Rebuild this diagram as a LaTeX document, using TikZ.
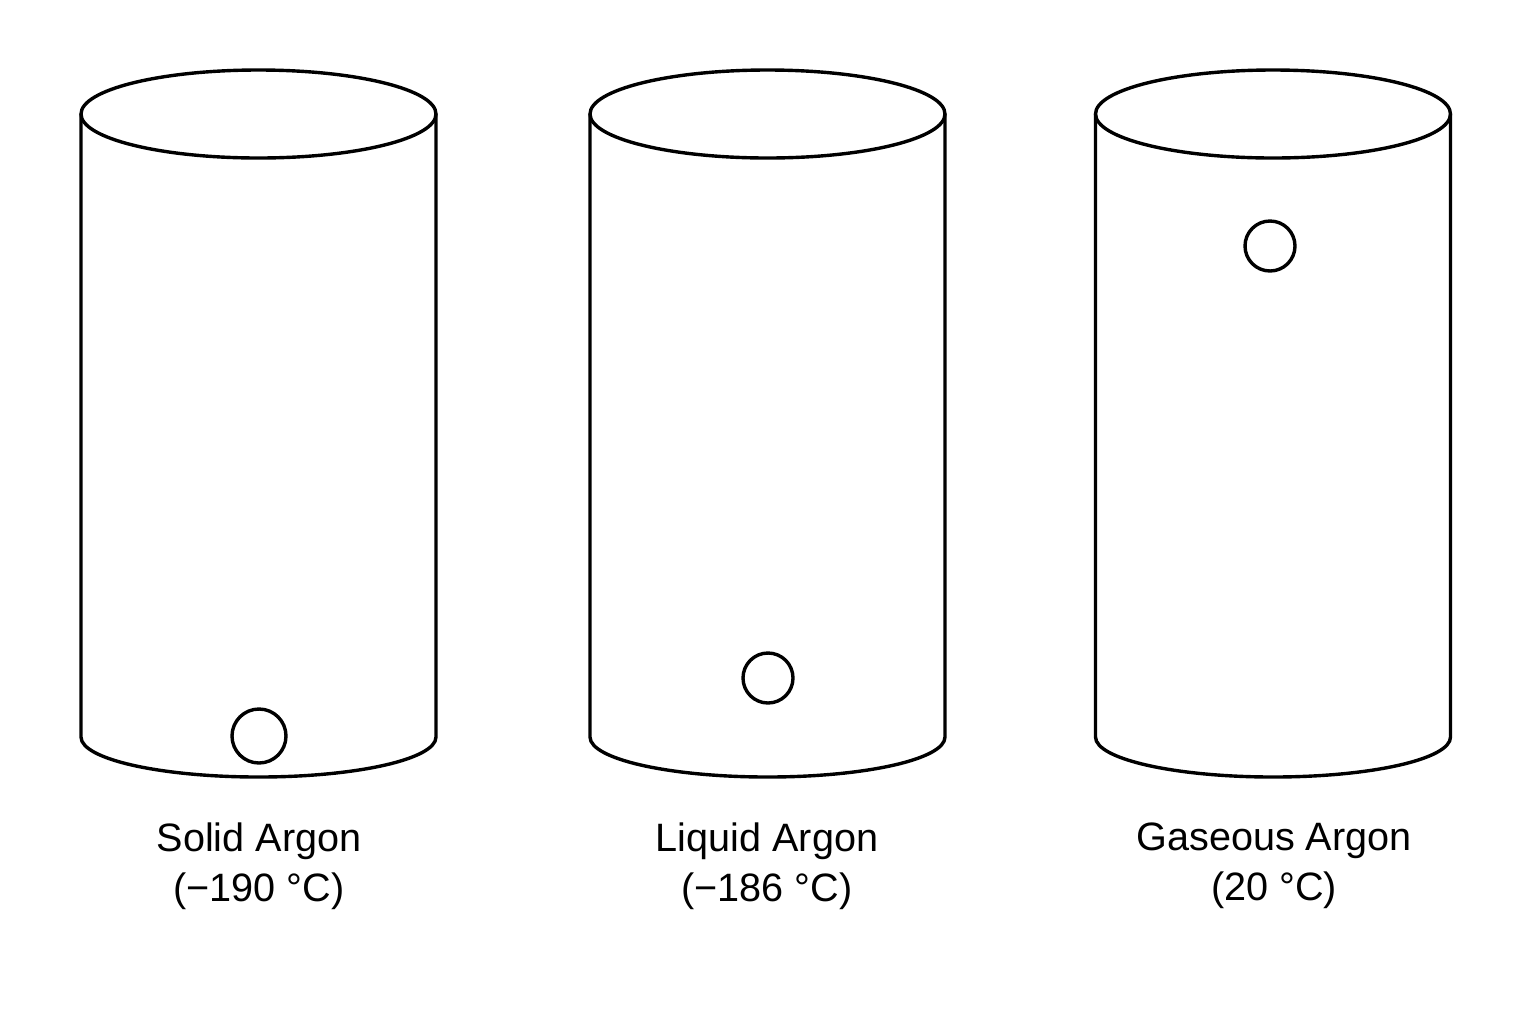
\documentclass[tikz,border=0pt]{standalone}
\usepackage{fontspec}
\setmainfont{Liberation Sans}
\begin{document}
\begin{tikzpicture}[x=0.5pt,y=-0.5pt,
  line/.style={line width=1.7pt,line join=round,line cap=round},
  label/.style={align=center,font=\fontsize{19.8pt}{25pt}\selectfont,inner sep=0pt},
  ball/.style={line width=1.7pt,draw,circle,inner sep=0pt}]
\useasboundingbox[fill=white] (0,0) rectangle (1536,1024);
\foreach \cx/\nm in {258.5/a,767.5/b,1273/c}{
  \draw[line] (\cx,114) ellipse[x radius=177.5,y radius=44];
  \draw[line] (\cx-177.5,114) -- (\cx-177.5,737) arc[start angle=180,end angle=360,x radius=177.5,y radius=-40] -- (\cx+177.5,114);
}
\node[ball,minimum size=27pt] (ba) at (259,736) {};
\node[ball,minimum size=25pt] (bb) at (768,678) {};
\node[ball,minimum size=25pt] (bc) at (1270,246) {};
\node[label] (la) at (259,866) {Solid Argon\\(−190 °C)};
\node[label] (lb) at (767,866) {Liquid Argon\\(−186 °C)};
\node[label] (lc) at (1274,866) {Gaseous Argon\\(20 °C)};
\end{tikzpicture}
\end{document}
